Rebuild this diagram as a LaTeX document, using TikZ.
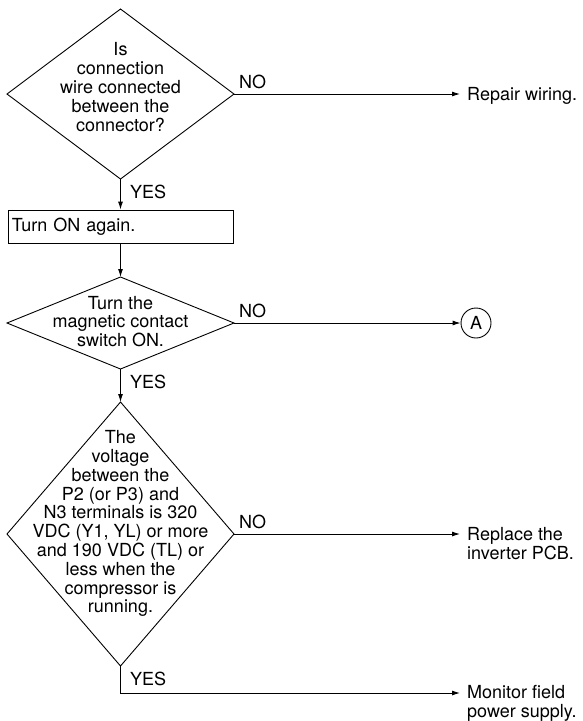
\documentclass[tikz,border=0pt]{standalone}
\usepackage{fontspec}
\setmainfont{TeX Gyre Heros}
\usetikzlibrary{shapes.geometric,arrows.meta}
\begin{document}
\begin{tikzpicture}[x=1pt,y=-1pt,
  every node/.style={font=\fontsize{18}{18.8}\selectfont},
  dia/.style={draw,shape=diamond,inner sep=0pt,outer sep=0pt,minimum width=227pt,line width=0.9pt},
  dtext/.style={align=center,inner sep=0pt},
  lbl/.style={anchor=base west,inner sep=0pt},
  res/.style={inner xsep=7pt,inner ysep=0pt,align=left},
  conn/.style={line width=0.9pt},
  arr/.style={conn,-{Latex[length=8pt,width=5pt]}}]
\useasboundingbox (0,0) rectangle (582,721);
% decision 1
\node[dia,minimum height=170pt] (d1) at (120.5,94) {};
\node[dtext] (d1t) at (120.5,87) {Is\\connection\\wire connected\\between the\\connector?};
\node[lbl] (d1no) at (239,88) {NO};
\node[lbl] (d1yes) at (130,198) {YES};
\node[res,anchor=base west] (rep) at (460,100) {Repair wiring.};
% box
\node[draw,line width=0.9pt,minimum width=225pt,minimum height=33pt,text width=217pt,inner xsep=4pt,align=left] (box) at (120.5,226.5) {Turn ON again.};
% decision 2
\node[dia,minimum height=92pt] (d2) at (120.5,323) {};
\node[dtext] (d2t) at (120.5,321.5) {Turn the\\magnetic contact\\switch ON.};
\node[lbl] (d2no) at (239,317) {NO};
\node[lbl] (d2yes) at (130,388) {YES};
\node[draw,circle,line width=0.9pt,minimum size=30pt,inner sep=0pt] (A) at (476,323) {A};
% decision 3
\node[dia,minimum height=264pt] (d3) at (120.5,534) {};
\node[dtext] (d3t) at (120.5,523.6) {The\\voltage\\between the\\P2 (or P3) and\\N3 terminals is 320\\VDC (Y1, YL) or more\\and 190 VDC (TL) or\\less when the\\compressor is\\running.};
\node[lbl] (d3no) at (239,528) {NO};
\node[lbl] (d3yes) at (130,685) {YES};
\node[res,anchor=north west] (pcb) at (460,527) {Replace the\\inverter PCB.};
\node[res,anchor=north west] (mon) at (460,685) {Monitor field\\power supply.};
% connectors
\draw[arr] (d1.east) -- (d1.east -| rep.west);
\draw[arr] (d1.south) -- (box.north);
\draw[arr] (box.south) -- (d2.north);
\draw[arr] (d2.east) -- (A.west);
\draw[arr] (d2.south) -- (d3.north);
\draw[arr] (d3.east) -- (d3.east -| pcb.west);
\draw[arr] (d3.south) |- ([yshift=-8pt]mon.north west);
\end{tikzpicture}
\end{document}
